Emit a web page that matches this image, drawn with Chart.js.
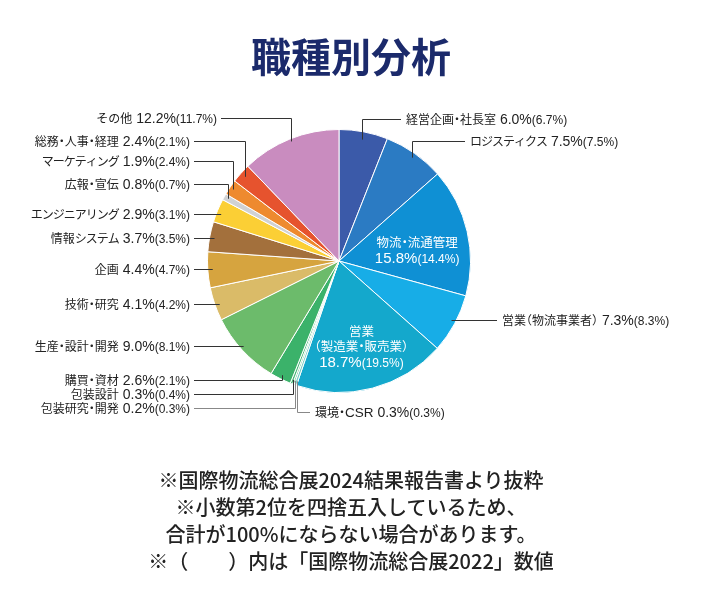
<!DOCTYPE html>
<html lang="ja">
<head>
<meta charset="utf-8">
<script src="https://cdn.jsdelivr.net/npm/chart.js@4.4.1/dist/chart.umd.min.js"></script>
<style>
html,body{margin:0;padding:0;background:#fff;}
#wrap{position:relative;width:702px;height:614px;overflow:hidden;}
#chartBox{position:absolute;left:0;top:0;width:702px;height:614px;}
#title{position:absolute;left:0;width:702px;top:30px;text-align:center;font-family:"Noto Sans CJK JP";font-weight:700;font-size:40px;line-height:50px;color:#1b2a6b;margin:0;}
#notes{position:absolute;left:0;width:702px;top:466px;text-align:center;font-family:"Noto Sans CJK JP";font-weight:500;font-size:20px;line-height:27px;color:#222;margin:0;}
</style>
</head>
<body>
<div id="wrap">
  <div id="chartBox"><canvas id="c"></canvas></div>
  <h1 id="title">職種別分析</h1>
  <div id="notes">
    <div>※国際物流総合展2024結果報告書より抜粋</div>
    <div>※小数第2位を四捨五入しているため、</div>
    <div>合計が100%にならない場合があります。</div>
    <div>※（　　）内は「国際物流総合展2022」数値</div>
  </div>
</div>
<script>
// ---- data ----
const categories = [
  "経営企画・社長室", "ロジスティクス", "物流・流通管理", "営業（物流事業者）",
  "営業（製造業・販売業）", "環境・CSR", "包装研究・開発", "包装設計", "購買・資材",
  "生産・設計・開発", "技術・研究", "企画", "情報システム", "エンジニアリング",
  "広報・宣伝", "マーケティング", "総務・人事・経理", "その他"
];
const share2024 = [6.0, 7.5, 15.8, 7.3, 18.7, 0.3, 0.2, 0.3, 2.6, 9.0, 4.1, 4.4, 3.7, 2.9, 0.8, 1.9, 2.4, 12.2];
const share2022 = [6.7, 7.5, 14.4, 8.3, 19.5, 0.3, 0.3, 0.4, 2.1, 8.1, 4.2, 4.7, 3.5, 3.1, 0.7, 2.4, 2.1, 11.7];

// ---- styles ----
const sliceColors = [
  "#3b5aa9", "#2b7bc3", "#0f90d4", "#17ade7", "#14a8cc", "#7ccfc6", "#62c18c", "#4db87a",
  "#3bb26a", "#6cbb6b", "#dabb68", "#d6a43f", "#a3703c", "#fbcf35", "#d0d2d4",
  "#ee8a2f", "#e6532e", "#c98cbf"
];
// label placement (layout only)
const labelLayout = [
  {side:"R", x:406, y:119, mode:"elbow", f:0.94},
  {side:"R", x:470, y:141, mode:"elbow", f:0.96},
  {inside:true, f:0.61, dy:7},
  {side:"R", x:502, y:320, mode:"flat"},
  {inside:true, f:0.67, dy:0},
  {side:"R", x:315, y:412, mode:"elbow", f:0.97, color:"#888"},
  {side:"L", x:190, y:408, mode:"elbow", f:0.97, color:"#888"},
  {side:"L", x:190, y:394, mode:"elbow", f:0.97},
  {side:"L", x:190, y:380, mode:"elbow", f:0.97},
  {side:"L", x:190, y:346, mode:"flat"},
  {side:"L", x:190, y:304, mode:"flat"},
  {side:"L", x:190, y:269, mode:"flat"},
  {side:"L", x:190, y:238, mode:"flat"},
  {side:"L", x:190, y:214, mode:"flat"},
  {side:"L", x:190, y:184, mode:"elbow", f:0.97},
  {side:"L", x:190, y:161, mode:"elbow", f:0.97},
  {side:"L", x:190, y:141, mode:"elbow", f:0.96},
  {side:"L", x:217, y:118, mode:"elbow", f:0.98}
];

const CJK = '"Noto Sans CJK JP", sans-serif';
const LAT = '"Liberation Sans", Arial, sans-serif';
const NARROW = {"・": -0.25, "（": -0.5, "）": 0};

// measure / draw a run; CJK punctuation drawn with half-width advance,
// katakana slightly tightened, Latin letters in a Latin face
function runLayout(ctx, p) {
  const items = [];
  let w = 0;
  if (p.palt) {
    for (const ch of p.text) {
      if (ch in NARROW) { items.push({ch, x: w + NARROW[ch] * p.size, font: p.font}); w += 0.5 * p.size; continue; }
      if (/[A-Za-z0-9]/.test(ch)) {
        const f = "400 " + (p.size + 1.5) + "px " + LAT;
        ctx.font = f;
        items.push({ch, x: w, font: f}); w += ctx.measureText(ch).width; continue;
      }
      ctx.font = p.font;
      items.push({ch, x: w, font: p.font});
      w += ctx.measureText(ch).width;
      if (/[\u30A1-\u30FA\u30FC]/.test(ch)) w -= 1;
    }
  } else {
    ctx.font = p.font;
    items.push({ch: p.text, x: 0, font: p.font});
    w = ctx.measureText(p.text).width;
  }
  return {items, w};
}
function drawParts(ctx, parts, x, baseline, align) {
  const lays = parts.map(p => runLayout(ctx, p));
  const total = lays.reduce((s, l) => s + l.w, 0);
  let cx = align === "right" ? x - total : (align === "center" ? x - total / 2 : x);
  ctx.textAlign = "left";
  ctx.textBaseline = "alphabetic";
  lays.forEach(l => {
    l.items.forEach(it => { ctx.font = it.font; ctx.fillText(it.ch, cx + it.x, baseline); });
    cx += l.w;
  });
  return total;
}

const labelPlugin = {
  id: "pieLabels",
  afterDatasetsDraw(chart) {
    const ctx = chart.ctx;
    const meta = chart.getDatasetMeta(0);
    ctx.save();
    meta.data.forEach((arc, i) => {
      const p = arc.getProps(["x", "y", "startAngle", "endAngle", "outerRadius"], true);
      const mid = (p.startAngle + p.endAngle) / 2;
      const L = labelLayout[i];
      const v = share2024[i].toFixed(1) + "%";
      const v22 = "(" + share2022[i].toFixed(1) + "%)";
      if (L.inside) {
        const r = p.outerRadius * L.f;
        const ax = p.x + r * Math.cos(mid), ay = p.y + r * Math.sin(mid) + (L.dy || 0);
        ctx.fillStyle = "#fff";
        const name = categories[i];
        const k = name.indexOf("（");
        let lines = [];
        if (k > 0) {
          lines = [[{text:name.slice(0,k), font:"400 12.5px " + CJK, size:12.5, palt:true}],
                   [{text:name.slice(k), font:"400 12.5px " + CJK, size:12.5, palt:true}]];
        } else {
          lines = [[{text:name, font:"400 12.5px " + CJK, size:12.5, palt:true}]];
        }
        lines.push([{text:v, font:"400 15px " + LAT}, {text:v22, font:"400 12px " + LAT}]);
        const lh = 15.5;
        const top = ay - (lines.length - 1) * lh / 2;
        lines.forEach((ln, j) => drawParts(ctx, ln, ax, top + j * lh + 5, "center"));
        return;
      }
      // text
      ctx.fillStyle = "#222";
      const parts = [
        {text: categories[i], font: "400 12px " + CJK, size: 12, palt: true},
        {text: " " + v, font: "400 14px " + LAT},
        {text: v22, font: "400 12px " + LAT}
      ];
      drawParts(ctx, parts, L.x, L.y + 5, L.side === "L" ? "right" : "left");
      // leader line
      ctx.strokeStyle = L.color || "#333";
      ctx.lineWidth = 1;
      ctx.beginPath();
      const sx = L.side === "L" ? L.x + 4 : L.x - 5;
      if (L.mode === "elbow") {
        const r = p.outerRadius * L.f;
        const ax = p.x + r * Math.cos(mid), ay = p.y + r * Math.sin(mid);
        ctx.moveTo(sx, L.y + 0.5);
        ctx.lineTo(Math.round(ax) + 0.5, L.y + 0.5);
        ctx.lineTo(Math.round(ax) + 0.5, ay);
      } else {
        const dy = L.y - p.y;
        const dx = Math.sqrt(Math.max(p.outerRadius * p.outerRadius - dy * dy, 0));
        const ex = L.side === "L" ? p.x - dx + 5 : p.x + dx - 5;
        ctx.moveTo(sx, L.y + 0.5);
        ctx.lineTo(ex, L.y + 0.5);
      }
      ctx.stroke();
    });
    ctx.restore();
  }
};

new Chart(document.getElementById("c"), {
  type: "pie",
  data: {
    labels: categories,
    datasets: [{
      data: share2024,
      backgroundColor: sliceColors,
      borderColor: "#ffffff",
      borderWidth: 1
    }]
  },
  options: {
    responsive: true,
    maintainAspectRatio: false,
    animation: false,
    layout: {padding: {top: 129, bottom: 221, left: 207, right: 231}},
    plugins: {legend: {display: false}, tooltip: {enabled: false}, title: {display: false}}
  },
  plugins: [labelPlugin]
});
</script>
</body>
</html>
